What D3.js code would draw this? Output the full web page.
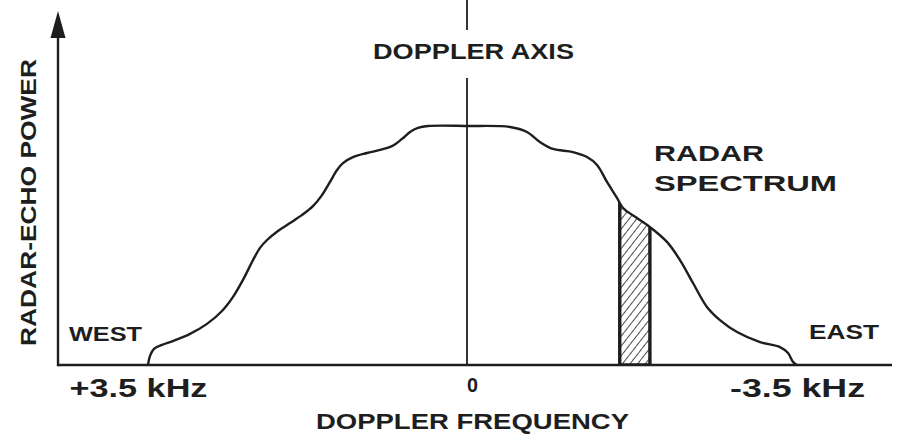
<!DOCTYPE html>
<html>
<head>
<meta charset="utf-8">
<script src="https://cdn.jsdelivr.net/npm/d3@7"></script>
<style>
  html, body { margin: 0; padding: 0; background: #ffffff; }
  svg { display: block; }
  text { font-family: "Liberation Sans", Arial, Helvetica, sans-serif; fill: #1e1e1e; }
</style>
</head>
<body>
<svg id="chart" width="897" height="443"></svg>
<script>
// Doppler frequency (kHz) — positive = west side, negative = east side
const frequency = [3.5, 3.478, 3.434, 3.346, 3.226, 3.039, 2.853, 2.688, 2.567, 2.458, 2.348, 2.271, 2.194, 2.074, 1.942, 1.810, 1.690, 1.591, 1.503, 1.426, 1.361, 1.251, 1.097, 0.955, 0.823, 0.713, 0.625, 0.538, 0.428, 0,
  -0.456, -0.636, -0.774, -0.912, -1.124, -1.273, -1.379, -1.485, -1.591, -1.655, -1.803, -1.941, -2.121, -2.259, -2.397, -2.545, -2.683, -2.864, -3.108, -3.320, -3.405, -3.458, -3.5];
// Relative radar-echo power (peak = 1)
const power = [0, 0.038, 0.067, 0.084, 0.100, 0.130, 0.172, 0.226, 0.285, 0.356, 0.439, 0.490, 0.523, 0.561, 0.594, 0.628, 0.665, 0.711, 0.766, 0.816, 0.845, 0.870, 0.887, 0.900, 0.916, 0.946, 0.975, 0.992, 1.0, 1.0,
  0.996, 0.975, 0.933, 0.904, 0.891, 0.870, 0.837, 0.766, 0.699, 0.657, 0.615, 0.577, 0.515, 0.439, 0.343, 0.243, 0.188, 0.138, 0.096, 0.075, 0.050, 0.013, 0];
// Hatched frequency band (kHz)
const bandFreq = [-1.62, -1.94];
// Axis ticks
const tickValues = [3.5, 0, -3.5];
const tickLabels = ["+3.5 kHz", "0", "-3.5 kHz"];
const sideLabels = ["WEST", "EAST"];
const titleY = "RADAR-ECHO POWER";
const titleX = "DOPPLER FREQUENCY";
const axisLabel = "DOPPLER AXIS";
const seriesLabel = ["RADAR", "SPECTRUM"];

const data = frequency.map((f, i) => ({ f, p: power[i] }));

const svg = d3.select("#chart");
const ink = "#1e1e1e";

const x = d3.scaleLinear().domain([3.5, 0, -3.5]).range([148, 467, 797]);
const y = d3.scaleLinear().domain([0, 1]).range([365, 126]);

const line = d3.line().x(d => x(d.f)).y(d => y(d.p)).curve(d3.curveCatmullRom.alpha(0.5));
const area = d3.area().x(d => x(d.f)).y0(y(0)).y1(d => y(d.p)).curve(d3.curveCatmullRom.alpha(0.5));

const defs = svg.append("defs");
defs.append("clipPath").attr("id", "under").append("path").attr("d", area(data));
const pat = defs.append("pattern").attr("id", "hatch")
  .attr("patternUnits", "userSpaceOnUse").attr("width", 6).attr("height", 6)
  .attr("patternTransform", "rotate(38)");
pat.append("line").attr("x1", 0).attr("y1", -1).attr("x2", 0).attr("y2", 7)
  .attr("stroke", ink).attr("stroke-width", 1.6);

// hatched band
svg.append("rect")
  .attr("clip-path", "url(#under)")
  .attr("x", x(bandFreq[0])).attr("y", y(1.1))
  .attr("width", x(bandFreq[1]) - x(bandFreq[0])).attr("height", y(0) - y(1.1))
  .attr("fill", "url(#hatch)").attr("stroke", ink).attr("stroke-width", 3.4);

// doppler axis
svg.append("line").attr("x1", x(0)).attr("x2", x(0)).attr("y1", 0).attr("y2", 30)
  .attr("stroke", ink).attr("stroke-width", 1.8);
svg.append("line").attr("x1", x(0)).attr("x2", x(0)).attr("y1", 78).attr("y2", y(0))
  .attr("stroke", ink).attr("stroke-width", 1.8);

// spectrum curve
svg.append("path").attr("d", line(data)).attr("fill", "none")
  .attr("stroke", ink).attr("stroke-width", 2.4).attr("stroke-linejoin", "round");

// axes
svg.append("line").attr("x1", 58).attr("x2", 892).attr("y1", y(0)).attr("y2", y(0))
  .attr("stroke", ink).attr("stroke-width", 2.4);
svg.append("line").attr("x1", 58).attr("x2", 58).attr("y1", 30).attr("y2", y(0) + 1.2)
  .attr("stroke", ink).attr("stroke-width", 2.4);
svg.append("path").attr("d", "M58,11 L50.5,38 L65.5,38 Z").attr("fill", ink);

// bottom axis ticks via d3 axis
const ax = svg.append("g").attr("transform", `translate(0,${y(0)})`)
  .call(d3.axisBottom(x).tickValues(tickValues).tickSize(0).tickPadding(0)
    .tickFormat((d, i) => tickLabels[i]));
ax.select(".domain").remove();
const tickStyle = [
  { size: 26, dx: -10, dy: 32, len: 138 },
  { size: 21, dx: 5, dy: 27, len: 11 },
  { size: 26, dx: 0, dy: 32, len: 135 }
];
ax.selectAll(".tick text").each(function (d, i) {
  const s = tickStyle[i];
  d3.select(this).attr("font-size", s.size).attr("font-weight", "bold")
    .attr("font-family", "Liberation Sans, Arial, sans-serif")
    .attr("fill", ink)
    .attr("y", s.dy).attr("dy", null).attr("x", s.dx)
    .attr("textLength", s.len).attr("lengthAdjust", "spacingAndGlyphs");
});

function label(txt, xp, yp, len, size, anchor) {
  return svg.append("text").attr("x", xp).attr("y", yp).text(txt)
    .attr("font-size", size).attr("font-weight", "bold")
    .attr("text-anchor", anchor || "start")
    .attr("textLength", len).attr("lengthAdjust", "spacingAndGlyphs");
}

label(axisLabel, 373, 59, 201, 22);
label(seriesLabel[0], 654, 161, 110, 22);
label(seriesLabel[1], 654, 191, 183, 22);
label(sideLabels[0], 69, 341, 73, 21);
label(sideLabels[1], 809, 339, 70, 21);
label(titleX, 316, 429, 313, 22);

svg.append("text").attr("transform", "translate(36,202.5) rotate(-90)")
  .attr("text-anchor", "middle").text(titleY)
  .attr("font-size", 22).attr("font-weight", "bold")
  .attr("textLength", 287).attr("lengthAdjust", "spacingAndGlyphs");
</script>
</body>
</html>
